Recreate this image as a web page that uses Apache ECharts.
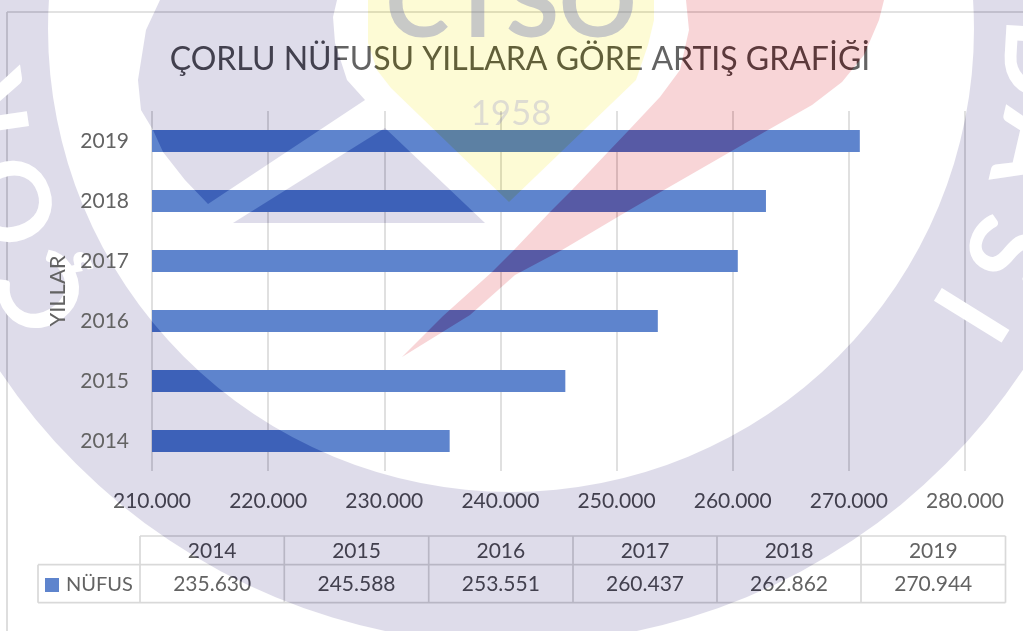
<!DOCTYPE html>
<html>
<head>
<meta charset="utf-8">
<style>html,body{margin:0;padding:0;background:#fff}#c{width:1023px;height:631px}</style>
<script src="https://cdn.jsdelivr.net/npm/echarts@6/dist/echarts.min.js"></script>
</head>
<body>
<div id="c"></div>
<script>
var titleText = 'ÇORLU NÜFUSU YILLARA GÖRE ARTIŞ GRAFİĞİ';
var seriesName = 'NÜFUS';
var axisName = 'YILLAR';
var years = ['2014', '2015', '2016', '2017', '2018', '2019'];
var population = [235630, 245588, 253551, 260437, 262862, 270944];

function fmt(v) { return String(v).replace(/\B(?=(\d{3})+$)/g, '.'); }

var FONT = 'Lato, "Noto Sans", sans-serif';
var TEXT = '#636363', LINE = '#d9d9d9';

/* overlay colours: how far each watermark tint sits below white */
var RING = 'rgb(33,35,21)', YEL = 'rgb(2,4,42)', RED = 'rgb(7,42,40)';

var g = [];
function line(x1, y1, x2, y2, w) {
  g.push({ type: 'line', silent: true, z: 1, shape: { x1: x1, y1: y1, x2: x2, y2: y2 }, style: { stroke: LINE, lineWidth: w || 1.7 } });
}
function label(t, x, y, size, color) {
  g.push({ type: 'text', silent: true, z: 5, x: x, y: y, style: { text: t, fill: color || TEXT, font: size + 'px ' + FONT, align: 'center', verticalAlign: 'middle' } });
}

/* chart frame */
line(7, 12, 1023, 12);
line(7, 12, 7, 631);

/* data table */
var colX = [140, 284.3, 428.7, 573, 717, 861, 1005.5];
var rowY = [536, 564.7, 602.7];
var tableLeft = 38;
line(colX[0], rowY[0], colX[6], rowY[0]);
line(tableLeft, rowY[1], colX[6], rowY[1]);
line(tableLeft, rowY[2], colX[6], rowY[2]);
line(tableLeft, rowY[1], tableLeft, rowY[2]);
colX.forEach(function (x) { line(x, rowY[0], x, rowY[2]); });
years.forEach(function (y, i) {
  var cx = (colX[i] + colX[i + 1]) / 2;
  label(y, cx, (rowY[0] + rowY[1]) / 2 + 0.5, 21);
  label(fmt(population[i]), cx, (rowY[1] + rowY[2]) / 2 + 0.5, 21);
});

/* watermark, laid over everything so that it darkens bars and text alike */
function wm(el, color) {
  el.silent = true; el.z = 100;
  el.style = { fill: color, blend: 'difference' };
  g.push(el);
}
wm({ type: 'ring', shape: { cx: 511, cy: 29, r: 615, r0: 463 } }, RING);
wm({ type: 'polygon', shape: { points: [[160, 0], [146, 30], [138, 80], [141, 110], [153, 130], [163, 152], [185, 180], [208, 204], [365, 100], [347, 80], [335, 43], [333, 17], [337, 0]] } }, RING);
wm({ type: 'polygon', shape: { points: [[385, 128], [485, 223], [233, 223]] } }, RING);
wm({ type: 'polygon', shape: { points: [[368, 0], [368, 43], [377, 70], [391, 88], [509, 202], [636, 80], [648, 45], [654, 20], [654, 0]] } }, YEL);
wm({ type: 'polygon', shape: { points: [[686, 0], [689, 30], [680, 70], [660, 97], [629, 130], [608, 152], [572, 190], [550, 212], [514, 250], [492, 272], [443, 316], [402, 357], [470, 315], [515, 275], [562, 250], [626, 212], [664, 190], [730, 152], [768, 130], [812, 105], [842, 82], [864, 55], [879, 20], [884, 0]] } }, RED);

function wmText(t, x, y, font, fill) {
  g.push({ type: 'text', silent: true, z: 101, x: x, y: y, style: { text: t, font: font, fill: fill, align: 'center', verticalAlign: 'middle' } });
}
wmText('CTSO', 511, 6, 'bold 96px ' + FONT, 'rgba(80,85,170,0.3)');
wmText('1958', 511, 114, '35px ' + FONT, 'rgba(46,46,193,0.15)');

/* ring lettering: white */
var ringLetters = [['D', 1040, 60], ['A', 1032, 150], ['S', 1005, 250], ['I', 968, 313], ['Ç', 45, 292], ['O', 15, 200], ['R', -10, 105]];
ringLetters.forEach(function (l) {
  var a = Math.atan2(l[2] - 29, l[1] - 511) + Math.PI / 2;
  g.push({ type: 'text', silent: true, z: 101, x: l[1], y: l[2], rotation: -a,
    style: { text: l[0], font: 'bold 110px ' + FONT, align: 'center', verticalAlign: 'middle', fill: '#ffffff' } });
});

var chart = echarts.init(document.getElementById('c'), null, { renderer: 'canvas' });
chart.setOption({
  animation: false,
  backgroundColor: '#ffffff',
  title: {
    text: titleText, left: 515, top: 39, textAlign: 'center',
    textStyle: { color: TEXT, fontFamily: FONT, fontWeight: 'normal', fontSize: 32 }
  },
  legend: {
    data: [seriesName], left: 40, top: 570, icon: 'rect', itemWidth: 14, itemHeight: 14, selectedMode: false,
    textStyle: { color: TEXT, fontFamily: FONT, fontSize: 20, padding: [0, 0, 0, 2] }
  },
  grid: { left: 152, top: 111, width: 813, height: 360, containLabel: false },
  xAxis: {
    type: 'value', min: 210000, max: 280000, interval: 10000,
    axisLine: { show: false }, axisTick: { show: false },
    splitLine: { show: true, lineStyle: { color: LINE, width: 1.6 } },
    axisLabel: { color: TEXT, fontFamily: FONT, fontSize: 21, margin: 20, formatter: fmt, hideOverlap: false, showMinLabel: true, showMaxLabel: true }
  },
  yAxis: {
    type: 'category', data: years, z: 102,
    name: axisName, nameLocation: 'middle', nameGap: 82, nameRotate: 90,
    nameTextStyle: { color: TEXT, fontFamily: FONT, fontSize: 22 },
    axisTick: { show: false },
    axisLine: { show: false },
    axisLabel: { color: TEXT, fontFamily: FONT, fontSize: 21, margin: 23 }
  },
  series: [{
    name: seriesName, type: 'bar', data: population, barWidth: 22,
    itemStyle: { color: '#5e84cd' }
  }],
  graphic: { elements: g }
});
</script>
</body>
</html>
